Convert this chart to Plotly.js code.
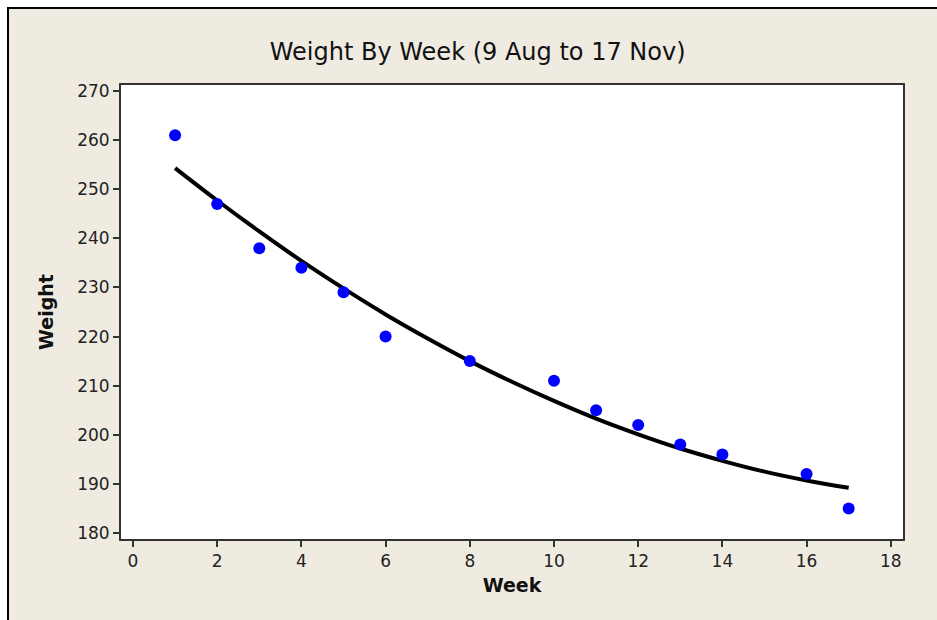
<!DOCTYPE html>
<html>
<head>
<meta charset="utf-8">
<script src="https://cdn.plot.ly/plotly-3.0.1.min.js"></script>
<style>
  html, body { margin: 0; padding: 0; background: #ffffff; width: 937px; height: 620px; overflow: hidden; }
  #frame { position: absolute; left: 7px; top: 7px; width: 930px; height: 613px;
           border-left: 2px solid #000; border-top: 2px solid #000; background: #efebe1; }
  #chart { position: absolute; left: 0; top: 0; width: 928px; height: 611px; }
</style>
</head>
<body>
<div id="frame"><div id="chart"></div></div>
<script>
// Observed weekly weights
const weeks   = [1, 2, 3, 4, 5, 6, 8, 10, 11, 12, 13, 14, 16, 17];
const weights = [261, 247, 238, 234, 229, 220, 215, 211, 205, 202, 198, 196, 192, 185];

// Fitted curve, values
const fitWeeks  = [1, 2, 3, 4, 5, 6, 7, 8, 9, 10, 11, 12, 13, 14, 15, 16, 17];
const fitValues = [254.3, 247.7, 241.4, 235.4, 229.8, 224.5, 219.6, 215.0, 210.8, 206.9, 203.3, 200.1, 197.2, 194.7, 192.5, 190.7, 189.2];

const xTicks = [0, 2, 4, 6, 8, 10, 12, 14, 16, 18];
const yTicks = [180, 190, 200, 210, 220, 230, 240, 250, 260, 270];

const font = "DejaVu Sans, Verdana, sans-serif";

const traces = [
  {
    x: fitWeeks, y: fitValues, type: 'scatter', mode: 'lines',
    line: { color: '#000000', width: 4, shape: 'spline' },
    hoverinfo: 'skip', showlegend: false
  },
  {
    x: weeks, y: weights, type: 'scatter', mode: 'markers',
    marker: { color: '#0000ff', size: 12 },
    showlegend: false
  }
];

const layout = {
  width: 928, height: 611,
  paper_bgcolor: 'rgba(0,0,0,0)',
  plot_bgcolor: '#ffffff',
  margin: { l: 112, r: 34, t: 76, b: 81 },
  title: {
    text: 'Weight By Week (9 Aug to 17 Nov)',
    font: { family: font, size: 24, color: '#111111' },
    x: 0.505, xanchor: 'center', y: 0.93, yanchor: 'middle'
  },
  xaxis: {
    range: [-0.285, 18.29],
    tickvals: xTicks, ticktext: xTicks.map(String),
    ticks: 'outside', ticklen: 6, tickwidth: 2, tickcolor: '#333333',
    showline: true, linecolor: '#333333', linewidth: 2, mirror: true,
    showgrid: false, zeroline: false,
    tickfont: { family: font, size: 17, color: '#222222' },
    title: { text: '<b>Week</b>', font: { family: font, size: 19, color: '#111111' }, standoff: 8 }
  },
  yaxis: {
    range: [178.78, 271.22],
    tickvals: yTicks, ticktext: yTicks.map(String),
    ticks: 'outside', ticklen: 6, tickwidth: 2, tickcolor: '#333333',
    showline: true, linecolor: '#333333', linewidth: 2, mirror: true,
    showgrid: false, zeroline: false,
    tickfont: { family: font, size: 17, color: '#222222' },
    title: { text: '<b>Weight</b>', font: { family: font, size: 19, color: '#111111' }, standoff: 18 }
  }
};

Plotly.newPlot('chart', traces, layout, { displayModeBar: false, staticPlot: true });
</script>
</body>
</html>
